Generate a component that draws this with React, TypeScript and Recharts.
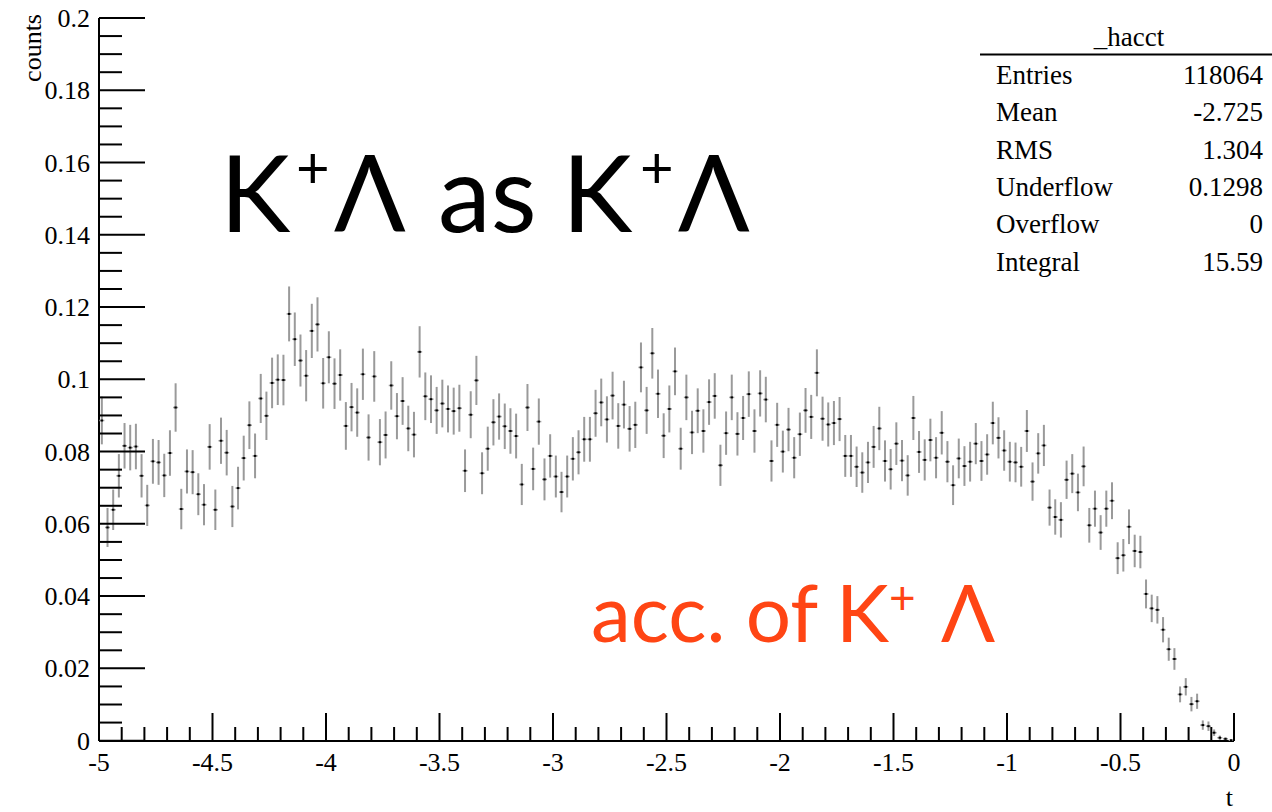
import { ScatterChart, Scatter, XAxis, YAxis, ErrorBar } from "recharts";

// bin contents (200 bins, width 0.025, from t=-5 to 0)
const counts = [
  0.0886, 0.059, 0.0639, 0.0733, 0.0816, 0.0811, 0.0814, 0.0733, 0.0651, 0.0773,
  0.077, 0.0734, 0.0796, 0.0922, 0.0641, 0.0745, 0.0743, 0.0682, 0.0653, 0.0813,
  0.0639, 0.083, 0.0797, 0.0648, 0.0699, 0.0782, 0.0873, 0.0788, 0.0947, 0.0899,
  0.099, 0.0999, 0.0998, 0.1181, 0.1111, 0.1052, 0.101, 0.1134, 0.1152, 0.0989,
  0.1061, 0.0988, 0.1012, 0.0871, 0.0923, 0.0908, 0.1014, 0.0839, 0.1008, 0.0826,
  0.0846, 0.0983, 0.0898, 0.094, 0.0864, 0.0847, 0.1076, 0.0953, 0.0945, 0.0914,
  0.0933, 0.0918, 0.0912, 0.092, 0.0747, 0.0902, 0.0997, 0.074, 0.0808, 0.0881,
  0.0897, 0.087, 0.0857, 0.0843, 0.0709, 0.0922, 0.0752, 0.0883, 0.0723, 0.0788,
  0.0731, 0.0688, 0.0731, 0.078, 0.0798, 0.0834, 0.0834, 0.0906, 0.0936, 0.0889,
  0.0955, 0.0871, 0.093, 0.0863, 0.0874, 0.1033, 0.0914, 0.1072, 0.096, 0.0844,
  0.0918, 0.1022, 0.0808, 0.095, 0.0853, 0.0913, 0.0857, 0.0937, 0.0954, 0.0762,
  0.0851, 0.095, 0.0849, 0.0893, 0.0959, 0.0857, 0.0961, 0.0944, 0.0774, 0.0874,
  0.08, 0.0861, 0.0783, 0.0848, 0.0914, 0.0896, 0.1018, 0.0891, 0.0875, 0.0879,
  0.089, 0.0788, 0.0788, 0.0758, 0.0742, 0.077, 0.0813, 0.0864, 0.0774, 0.0751,
  0.0822, 0.0775, 0.0734, 0.0893, 0.0799, 0.0777, 0.0832, 0.0783, 0.0852, 0.0772,
  0.0707, 0.0781, 0.076, 0.0772, 0.0822, 0.0774, 0.0792, 0.0879, 0.0838, 0.0803,
  0.0772, 0.077, 0.0758, 0.0857, 0.0717, 0.0795, 0.0817, 0.0645, 0.0619, 0.0611,
  0.0722, 0.0739, 0.0687, 0.0759, 0.0596, 0.0642, 0.0576, 0.0642, 0.0664, 0.0505,
  0.0513, 0.0592, 0.0525, 0.0522, 0.0406, 0.0366, 0.0362, 0.0307, 0.0253, 0.0226,
  0.0128, 0.0149, 0.0101, 0.0109, 0.0043, 0.004, 0.0022, 0.0008, 0.0005, 0.0001,
];

// half length of each error bar
const errors = [
  0.0066, 0.0054, 0.0056, 0.006, 0.0063, 0.0063, 0.0063, 0.006, 0.0057, 0.0062,
  0.0062, 0.006, 0.0063, 0.0067, 0.0056, 0.0061, 0.0061, 0.0058, 0.0057, 0.0063,
  0.0056, 0.0064, 0.0063, 0.0057, 0.0059, 0.0062, 0.0066, 0.0062, 0.0068, 0.0067,
  0.007, 0.007, 0.007, 0.0076, 0.0074, 0.0072, 0.0071, 0.0075, 0.0075, 0.007,
  0.0072, 0.007, 0.0071, 0.0066, 0.0067, 0.0067, 0.0071, 0.0064, 0.007, 0.0064,
  0.0065, 0.0067, 0.0064, 0.0066, 0.0063, 0.0063, 0.0071, 0.0066, 0.0066, 0.0065,
  0.0066, 0.0065, 0.0065, 0.0065, 0.0059, 0.0065, 0.0068, 0.0058, 0.0061, 0.0064,
  0.0064, 0.0063, 0.0063, 0.0062, 0.0057, 0.0065, 0.0059, 0.0064, 0.0058, 0.006,
  0.0058, 0.0056, 0.0058, 0.006, 0.0061, 0.0062, 0.0062, 0.0065, 0.0066, 0.0064,
  0.0066, 0.0063, 0.0066, 0.0063, 0.0064, 0.0069, 0.0065, 0.007, 0.0067, 0.0062,
  0.0065, 0.0066, 0.0058, 0.0063, 0.006, 0.0062, 0.006, 0.0063, 0.0063, 0.0057,
  0.006, 0.0063, 0.006, 0.0061, 0.0063, 0.006, 0.0064, 0.0063, 0.0057, 0.0061,
  0.0058, 0.006, 0.0057, 0.006, 0.0062, 0.0061, 0.0065, 0.0061, 0.0061, 0.0061,
  0.0061, 0.0058, 0.0058, 0.0056, 0.0056, 0.0057, 0.0058, 0.006, 0.0057, 0.0056,
  0.0059, 0.0057, 0.0056, 0.0061, 0.0058, 0.0057, 0.0059, 0.0057, 0.006, 0.0057,
  0.0055, 0.0055, 0.0055, 0.0055, 0.0057, 0.0055, 0.0056, 0.0059, 0.0057, 0.0056,
  0.0055, 0.0055, 0.0055, 0.0058, 0.0053, 0.0056, 0.0057, 0.005, 0.0049, 0.0049,
  0.0053, 0.0054, 0.0052, 0.0055, 0.0048, 0.005, 0.0048, 0.005, 0.0051, 0.0044,
  0.0045, 0.0048, 0.0045, 0.0045, 0.004, 0.0038, 0.0038, 0.0035, 0.0032, 0.003,
  0.0022, 0.0024, 0.002, 0.0021, 0.0013, 0.0013, 0.0009, 0.0006, 0.0004, 0.0002,
];

const xLabels = [-5, -4.5, -4, -3.5, -3, -2.5, -2, -1.5, -1, -0.5, 0];
const yLabels = [0, 0.02, 0.04, 0.06, 0.08, 0.1, 0.12, 0.14, 0.16, 0.18, 0.2];

const statsTitle = "_hacct";
const statsRows = [
  ["Entries", "118064"],
  ["Mean", "-2.725"],
  ["RMS", "1.304"],
  ["Underflow", "0.1298"],
  ["Overflow", "0"],
  ["Integral", "15.59"],
];

const binWidth = 0.025;
const data = counts.map((v, i) => ({ t: -5 + binWidth * (i + 0.5), v, err: errors[i] }));

// minor ticks every 0.1 on t, every 0.005 on counts
const xTicks = Array.from({ length: 51 }, (_, i) => Math.round((-5 + i * 0.1) * 10) / 10);
const yTicks = Array.from({ length: 41 }, (_, i) => Math.round(i * 5) / 1000);

const serif = "'Liberation Serif', 'Times New Roman', serif";
const sans = "Lato, 'Open Sans', 'DejaVu Sans', sans-serif";

const isLabel = (v: number, list: number[]) => list.some((m) => Math.abs(m - v) < 1e-9);

const BottomTick = (props: any) => {
  const { x, y, payload } = props;
  const major = isLabel(payload.value, xLabels);
  return (
    <g>
      <line x1={x} x2={x} y1={y} y2={y - (major ? 28 : 14)} stroke="#000" strokeWidth={2} />
      {major && (
        <text x={x} y={y + 30} textAnchor="middle" fontFamily={serif} fontSize={26} fill="#000">
          {String(payload.value)}
        </text>
      )}
    </g>
  );
};

const TopTick = (props: any) => {
  const { x, y, payload } = props;
  const major = isLabel(payload.value, xLabels);
  return <line x1={x} x2={x} y1={y} y2={y + (major ? 28 : 14)} stroke="#000" strokeWidth={2} />;
};

const LeftTick = (props: any) => {
  const { x, y, payload } = props;
  const major = isLabel(payload.value, yLabels);
  return (
    <g>
      <line x1={x} x2={x + (major ? 46 : 23)} y1={y} y2={y} stroke="#000" strokeWidth={2} />
      {major && (
        <text x={x - 9} y={y + 9} textAnchor="end" fontFamily={serif} fontSize={26} fill="#000">
          {String(payload.value)}
        </text>
      )}
    </g>
  );
};

const RightTick = (props: any) => {
  const { x, y, payload } = props;
  const major = isLabel(payload.value, yLabels);
  return <line x1={x} x2={x - (major ? 46 : 23)} y1={y} y2={y} stroke="#000" strokeWidth={2} />;
};

const Marker = (props: any) => {
  const { cx, cy } = props;
  return (
    <g>
      <line x1={cx - 2.5} x2={cx + 2.5} y1={cy} y2={cy} stroke="#999" strokeWidth={1.5} />
      <rect x={cx - 1.2} y={cy - 1} width={2.4} height={2} fill="#000" />
    </g>
  );
};

const axisLine = { stroke: "#000", strokeWidth: 2 };

export default function App() {
  return (
    <div style={{ position: "absolute", left: 0, top: 0, width: 1272, height: 812, background: "#fff" }}>
      <ScatterChart width={1272} height={812} margin={{ top: 18, right: 38, bottom: 0, left: 0 }}>
        <XAxis
          xAxisId="b"
          dataKey="t"
          type="number"
          domain={[-5, 0]}
          ticks={xTicks}
          interval={0}
          height={71}
          tickSize={0}
          tickMargin={0}
          axisLine={axisLine}
          tick={(p: any) => <BottomTick {...p} />}
        />
        <XAxis
          xAxisId="t"
          orientation="top"
          type="number"
          domain={[-5, 0]}
          ticks={xTicks}
          interval={0}
          height={0}
          tickSize={0}
          tickMargin={0}
          axisLine={axisLine}
          tick={(p: any) => <TopTick {...p} />}
        />
        <YAxis
          yAxisId="l"
          dataKey="v"
          type="number"
          domain={[0, 0.2]}
          ticks={yTicks}
          interval={0}
          width={99}
          tickSize={0}
          tickMargin={0}
          axisLine={axisLine}
          tick={(p: any) => <LeftTick {...p} />}
        />
        <YAxis
          yAxisId="r"
          orientation="right"
          type="number"
          domain={[0, 0.2]}
          ticks={yTicks}
          interval={0}
          width={0}
          tickSize={0}
          tickMargin={0}
          axisLine={axisLine}
          tick={(p: any) => <RightTick {...p} />}
        />
        <Scatter
          xAxisId="b"
          yAxisId="l"
          data={data}
          dataKey="v"
          shape={(p: any) => <Marker {...p} />}
          isAnimationActive={false}
        >
          <ErrorBar dataKey="err" direction="y" width={0} stroke="#9a9a9a" strokeWidth={2} isAnimationActive={false} />
        </Scatter>
      </ScatterChart>

      <svg
        width={1272}
        height={812}
        style={{ position: "absolute", left: 0, top: 0, pointerEvents: "none" }}
      >
        <text transform="translate(41 14) rotate(-90)" textAnchor="end" fontFamily={serif} fontSize={26}>
          counts
        </text>
        <text x={1233} y={806} textAnchor="end" fontFamily={serif} fontSize={26}>
          t
        </text>

        <text x={1129} y={46} textAnchor="middle" fontFamily={serif} fontSize={27}>
          {statsTitle}
        </text>
        <line x1={980} x2={1272} y1={54.5} y2={54.5} stroke="#000" strokeWidth={2} />
        {statsRows.map(([label, value], i) => (
          <g key={label} fontFamily={serif} fontSize={27}>
            <text x={996} y={84 + i * 37.3}>{label}</text>
            <text x={1263} y={84 + i * 37.3} textAnchor="end">{value}</text>
          </g>
        ))}

        <text fontFamily={sans} fontSize={106} fill="#000">
          <tspan x={220} y={232}>K</tspan>
          <tspan x={296} y={188} fontSize={58}>+</tspan>
          <tspan x={334} y={232}>Λ</tspan>
          <tspan x={438} y={232}>as</tspan>
          <tspan x={562} y={232}>K</tspan>
          <tspan x={640} y={188} fontSize={58}>+</tspan>
          <tspan x={678} y={232}>Λ</tspan>
        </text>

        <text fontFamily={sans} fontSize={80} fill="#ff4514">
          <tspan x={591} y={642}>acc. of</tspan>
          <tspan x={836} y={642}>K</tspan>
          <tspan x={889} y={614} fontSize={46}>+</tspan>
          <tspan x={941} y={642}>Λ</tspan>
        </text>
      </svg>
    </div>
  );
}
